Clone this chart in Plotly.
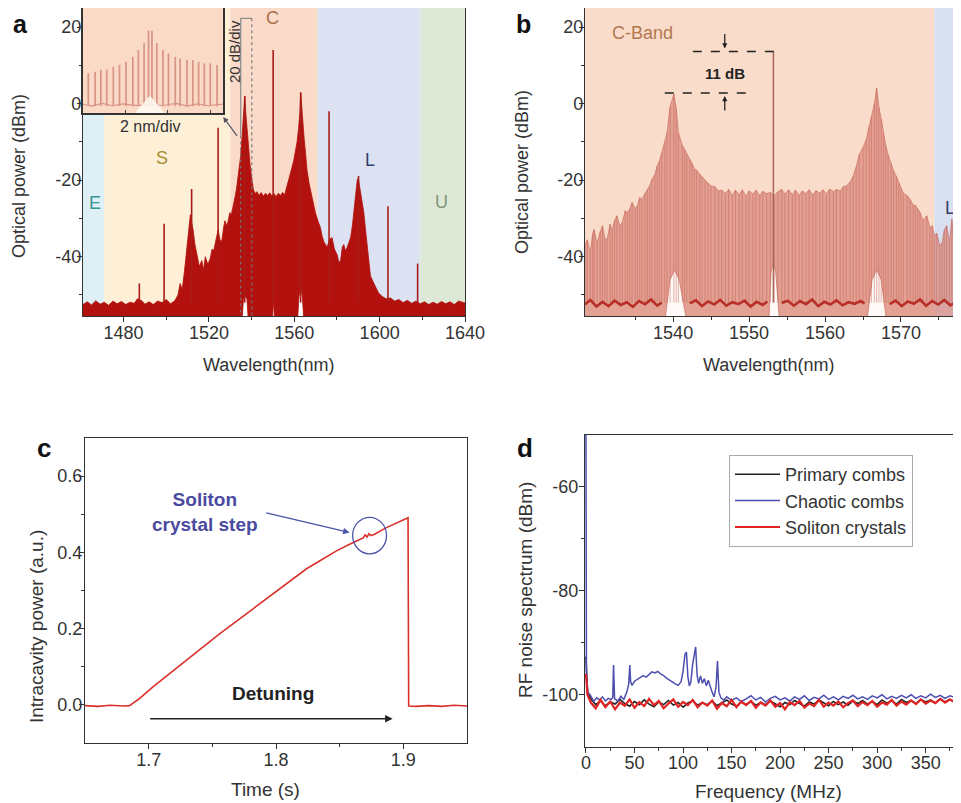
import plotly.graph_objects as go

FONT = "Arial, Liberation Sans, sans-serif"
TXT = "#333333"

# ---------------- Panel a : full spectrum ----------------
a_env_wl = [1461, 1463, 1465, 1467, 1469, 1471, 1473, 1475, 1477, 1479, 1481, 1483, 1485, 1486.5, 1488.5,
            1490, 1492, 1494, 1496, 1498, 1500, 1502, 1504, 1505.5, 1506.5, 1507.5, 1508.5, 1509.5, 1510.5,
            1511.3, 1511.9, 1512.6, 1513.5, 1514.4, 1515.5, 1516.7, 1517.5, 1518.3, 1519.5, 1520.6, 1521.5,
            1522.2, 1523.2, 1524.3, 1525.2, 1526, 1527, 1527.5, 1528.5, 1529.8, 1530.5, 1531.4, 1532.2, 1533,
            1534, 1534.8, 1535.5, 1536.1, 1536.5, 1536.8, 1537.2, 1537.7, 1538.5, 1539.3, 1540.2, 1540.9,
            1541.8, 1542.5, 1543.5, 1544.5, 1545.5, 1546.5, 1547.5, 1548.5, 1549.5, 1550.5, 1551.5, 1552.5,
            1553.5, 1554.5, 1555.5, 1556.6, 1557.5, 1558.2, 1559, 1559.7, 1560.5, 1561.3, 1562, 1562.6, 1563,
            1563.5, 1564, 1564.6, 1565.3, 1566, 1567, 1568.3, 1569.1, 1569.9, 1571, 1572.3, 1573, 1573.8,
            1575.4, 1576.5, 1577.7, 1578.8, 1580.1, 1580.9, 1581.7, 1582.5, 1583.2, 1584, 1584.8, 1585.6,
            1586.4, 1587.2, 1587.9, 1588.7, 1589.5, 1590, 1590.8, 1591.6, 1592.6, 1593.4, 1594.2, 1595,
            1595.7, 1596.9, 1598.1, 1599.5, 1601.2, 1603, 1605.1, 1607, 1609, 1611, 1613, 1615, 1617, 1619,
            1621, 1623, 1625, 1627, 1629, 1631, 1633, 1635, 1637, 1640]
a_env_db = [-52.5, -51.8, -52.6, -51.5, -52.4, -51.9, -52.7, -51.6, -52.3, -51.7, -52.5, -51.9, -52.2, -51.0, -51.5,
            -52.4, -51.8, -52.5, -51.6, -52.0, -51.2, -52.3, -51.5, -50.0, -47.0, -48.5, -44.0, -38.0, -34.0,
            -29.0, -31.0, -33.0, -37.0, -40.0, -42.5, -41.0, -43.5, -40.0, -42.0, -40.5, -38.0,
            -38.5, -35.5, -33.0, -35.5, -36.0, -32.0, -30.6, -32.0, -28.5, -29.0, -26.0, -24.5, -22.0,
            -18.0, -14.0, -9.0, -5.0, -1.5, 2.0, -2.0, -5.5, -11.0, -16.0, -20.0, -22.6,
            -23.5, -23.0, -24.0, -23.2, -24.2, -23.4, -24.0, -23.3, -24.1, -23.5, -24.3, -23.4,
            -24.0, -23.2, -23.8, -21.7, -20.0, -18.2, -16.5, -15.0, -12.5, -10.0, -6.5, -2.5, 3.0,
            -1.5, -5.0, -9.0, -13.0, -17.5, -21.0, -24.5, -26.5, -28.5, -30.5, -32.5, -34.5, -36.0,
            -37.5, -35.5, -35.0, -38.0, -39.5, -41.5, -41.0, -37.5, -36.8, -38.5, -37.5, -36.0,
            -35.0, -32.0, -28.0, -23.5, -20.0, -19.5, -22.0, -25.0, -28.5, -33.0, -37.5, -41.5,
            -45.0, -46.5, -47.8, -49.5, -50.4, -51.0, -50.8, -51.6, -51.2, -52.0, -51.4, -52.2, -51.6, -52.3,
            -51.8, -52.5, -51.9, -52.4, -51.7, -52.3, -51.8, -52.5, -51.6, -52.1]
a_floor_wl = [1640, 1564.5, 1563.8, 1563, 1562.2, 1561.5, 1550.8, 1550.3, 1549.7, 1538.5, 1537.8, 1537,
              1536.2, 1535.5, 1461]
a_floor_db = [-57, -57, -50.5, -48.0, -50.5, -57, -57, -51.5, -57, -57, -51.0, -50.4, -51.0, -57, -57]
spike_wl = [1487.4, 1499.0, 1511.9, 1524.3, 1536.8, 1550.1, 1563.0, 1576.3, 1590.1, 1603.9, 1617.8]
spike_db = [-47.0, -31.4, -22.3, -6.3, 1.9, 14.0, 2.8, -2.0, -18.9, -26.8, -41.8]
spike_base = -52.0

band_names = ["E", "S", "C", "L", "U"]
band_start = [1461, 1471, 1530, 1571, 1619]
band_end = [1471, 1530, 1571, 1619, 1640]
band_fill = ["#def0f5", "#fdf0d6", "#fadac8", "#dce2f2", "#dee8d6"]
band_lbl_wl = [1466.6, 1498.0, 1550.0, 1595.4, 1629.1]
band_lbl_db = [-26.0, -14.2, 22.3, -14.7, -25.7]
band_lbl_col = ["#3c9696", "#a88c34", "#a86e50", "#343c6e", "#82967a"]

# inset (zoom of the comb around 1537 nm)
inset_wl = [0.25, 0.57, 0.84, 1.12, 1.43, 1.72, 2.03, 2.35, 2.61, 2.88, 3.09, 3.25, 3.48, 3.77, 4.03,
            4.35, 4.58, 4.90, 5.18, 5.45, 5.72, 6.00, 6.32]
inset_db = [8.9, 9.3, 9.8, 9.9, 10.6, 11.1, 11.9, 13.2, 15.0, 16.8, 20.1, 20.1, 16.8, 15.0, 14.1,
            13.2, 12.8, 12.4, 12.4, 11.9, 11.5, 11.5, 11.1]
inset_floor_wl = [0, 0.4, 0.9, 1.4, 1.9, 2.4, 3.9, 4.4, 4.9, 5.4, 5.9, 6.6]
inset_floor_db = [0.8, 0.3, 1.0, 0.4, 0.9, 0.5, 0.6, 1.0, 0.3, 0.9, 0.4, 0.8]
inset_hump_wl = [2.45, 2.85, 3.15, 3.45, 3.85]
inset_hump_db = [-1.5, 1.2, 3.0, 1.2, -1.5]

# ---------------- Panel b : C-band soliton crystal ----------------
b_env_wl = [1528.4, 1528.7, 1529.1, 1529.4, 1529.6, 1530.0, 1530.4, 1530.7, 1531.0, 1531.3, 1531.7, 1532.0,
            1532.3, 1532.6, 1533.0, 1533.3, 1533.7, 1534.0, 1534.3, 1534.6, 1535.0, 1535.3, 1535.6, 1535.9,
            1536.3, 1536.6, 1536.9, 1537.2, 1537.6, 1537.9, 1538.2, 1538.5, 1538.9, 1539.2, 1539.6, 1540.1,
            1540.4, 1540.7, 1541.2, 1541.5, 1541.8, 1542.2, 1542.5, 1542.8, 1543.1, 1543.5, 1543.8, 1544.2,
            1544.6, 1545.0, 1545.5, 1546.0, 1546.4, 1546.9, 1547.3, 1547.8, 1548.2, 1548.7, 1549.1, 1549.6,
            1550.0, 1550.5, 1550.9, 1551.4, 1551.8, 1552.3, 1552.8, 1553.3, 1553.8, 1554.3, 1554.7, 1555.2,
            1555.7, 1556.1, 1556.6, 1557.0, 1557.5, 1557.9, 1558.4, 1558.8, 1559.3, 1559.7, 1560.2, 1560.6,
            1561.1, 1561.5, 1562.0, 1562.4, 1562.8, 1563.3, 1563.7, 1564.1, 1564.5, 1565.0, 1565.4, 1565.8,
            1566.1, 1566.5, 1566.8, 1567.1, 1567.4, 1567.7, 1568.0, 1568.3, 1568.7, 1569.0, 1569.4, 1569.7,
            1570.0, 1570.3, 1570.8, 1571.2, 1571.6, 1571.9, 1572.2, 1572.5, 1572.9, 1573.4, 1573.8, 1574.1,
            1574.4, 1574.7, 1575.1, 1575.4, 1575.7, 1576.0, 1576.4, 1576.7, 1577.0, 1577.3, 1577.6, 1577.9]
b_env_db = [-37.0, -35.6, -38.8, -34.0, -32.9, -36.5, -33.5, -31.9, -35.0, -35.6, -31.5, -33.0,
            -30.5, -29.3, -32.0, -31.0, -28.0, -28.4, -27.5, -25.8, -27.5, -26.6, -24.5, -25.0,
            -23.5, -22.4, -21.5, -19.8, -18.5, -16.3, -15.0, -12.8, -10.0, -7.6, -0.8, 2.5,
            -1.0, -7.6, -10.8, -12.0, -13.3, -14.5, -15.6, -17.0, -17.4, -18.5, -19.1, -20.0,
            -20.8, -21.5, -21.7, -22.8, -22.6, -23.5, -22.4, -24.0, -22.6, -23.8, -22.5, -24.2,
            -22.8, -23.6, -22.6, -24.0, -22.9, -23.5, -23.2, -24.0, -23.0, -22.4, -23.6, -22.5,
            -23.8, -22.6, -24.0, -22.8, -23.5, -22.5, -23.9, -22.7, -23.4, -22.5, -23.6, -22.3,
            -23.0, -22.4, -22.8, -21.7, -21.5, -20.5, -19.0, -16.5, -13.3, -11.5, -9.5, -6.0,
            -3.4, 0.0, 4.1, -1.0, -4.0, -8.0, -11.0, -13.3, -15.5, -17.4, -19.0, -20.8,
            -22.0, -23.4, -24.0, -25.0, -26.5, -26.6, -27.5, -28.4, -30.5, -29.3, -32.5, -31.9,
            -34.5, -33.8, -37.0, -36.5, -33.0, -31.9, -36.0, -30.2, -37.5, -35.6, -39.0, -37.0]
b_floor_wl = [1577.9, 1568.1, 1567.4, 1566.8, 1566.2, 1565.5, 1554.0, 1553.5, 1553.2, 1552.9, 1552.6,
              1541.8, 1540.8, 1540.2, 1539.6, 1538.9, 1528.4]
b_floor_db = [-57, -57, -46.0, -43.5, -46.0, -57, -57, -44.0, -41.6, -44.0, -57,
              -57, -46.0, -43.5, -46.0, -57, -57]
b_noise_wl = [1528.4, 1529.1, 1529.9, 1530.7, 1531.5, 1532.3, 1533.1, 1533.9, 1534.7, 1535.5, 1536.3, 1537.1,
              1537.9, 1538.5, None,
              1542.2, 1543.0, 1543.8, 1544.6, 1545.4, 1546.2, 1547.0, 1547.8, 1548.6, 1549.4, 1550.2, 1551.0,
              1551.8, 1552.4, None,
              1554.3, 1555.1, 1555.9, 1556.7, 1557.5, 1558.3, 1559.1, 1559.9, 1560.7, 1561.5, 1562.3, 1563.1,
              1563.9, 1564.7, 1565.2, None,
              1568.5, 1569.3, 1570.1, 1570.9, 1571.7, 1572.5, 1573.3, 1574.1, 1574.9, 1575.7, 1576.5, 1577.3,
              1577.9]
b_noise_db = [-52.5, -51.3, -53.0, -51.8, -52.9, -51.5, -52.6, -51.9, -53.1, -51.6, -52.4, -51.2,
              -52.8, -52.0, None,
              -52.2, -51.4, -52.9, -51.7, -52.5, -51.3, -52.8, -51.9, -52.4, -51.5, -53.0, -51.8,
              -52.6, -51.7, None,
              -52.1, -51.5, -52.8, -51.6, -52.4, -51.2, -52.9, -51.8, -52.5, -51.4, -52.7, -51.9,
              -52.3, -51.6, -52.2, None,
              -52.4, -51.5, -52.9, -51.7, -52.3, -51.2, -52.8, -51.6, -52.5, -51.3, -52.7, -51.8,
              -52.2]
pump_b_wl = 1553.2
pump_b_db = 13.6
comb_b_db = 2.8
b_band_start = [1528.4, 1574.4]
b_band_end = [1574.4, 1577.9]
b_band_fill = ["#fadcca", "#d8dff0"]

# ---------------- Panel c : intracavity power ----------------
t_c = [1.650, 1.660, 1.670, 1.680, 1.685, 1.693, 1.7036, 1.7298, 1.7559, 1.782, 1.8082, 1.824, 1.8345,
       1.8475, 1.8606, 1.8685, 1.8700, 1.8715, 1.8730, 1.8745, 1.8770, 1.8867, 1.9037, 1.9042, 1.910,
       1.920, 1.930, 1.940, 1.950]
p_c = [-0.002, -0.004, -0.001, -0.003, -0.002, 0.017, 0.048, 0.117, 0.187, 0.252, 0.317, 0.357, 0.378,
       0.404, 0.426, 0.438, 0.446, 0.440, 0.449, 0.444, 0.447, 0.465, 0.491, -0.003, -0.004,
       -0.002, -0.004, -0.001, -0.003]

# ---------------- Panel d : RF noise ----------------
f_grid = [0, 1.5, 5, 10, 15, 20, 25, 30, 35, 40, 45, 50, 55, 60, 65, 70, 75, 80, 85, 90, 95, 100, 105, 110,
          115, 120, 125, 130, 135, 140, 145, 150, 155, 160, 165, 170, 175, 180, 185, 190, 195, 200, 205,
          210, 215, 220, 225, 230, 235, 240, 245, 250, 255, 260, 265, 270, 275, 280, 285, 290, 295, 300,
          305, 310, 315, 320, 325, 330, 335, 340, 345, 350, 355, 360, 365, 370, 375, 380, 385]
primary_db = [-92.7, -99.5, -100.8, -101.9, -101.2, -102.1, -101.4, -101.8, -100.9, -101.7,
              -102.2, -101.3, -101.9, -101.0, -101.8, -102.3, -101.4, -101.9, -101.1, -102.0,
              -101.5, -102.4, -101.6, -101.2, -102.0, -101.5, -101.9, -101.2, -102.1, -101.6,
              -101.0, -101.8, -102.2, -101.4, -101.9, -101.3, -102.0, -101.5, -101.9, -101.2,
              -101.8, -102.3, -101.5, -101.9, -101.1, -101.7, -102.2, -101.4, -101.8, -101.0,
              -101.6, -102.1, -101.3, -101.9, -101.4, -102.0, -101.2, -101.7, -101.1, -101.8,
              -101.3, -101.9, -101.0, -101.6, -101.2, -101.8, -100.9, -101.5, -101.1, -101.7,
              -100.9, -101.4, -101.0, -101.6, -100.8, -101.4, -100.9, -101.5, -101.0]
soliton_db = [-96.0, -100.0, -101.5, -102.6, -101.0, -102.4, -101.3, -102.8, -101.5, -102.1,
              -100.9, -102.5, -101.4, -102.2, -100.8, -102.0, -101.2, -102.6, -101.7, -100.9,
              -102.3, -101.4, -102.0, -101.0, -102.4, -101.5, -102.1, -101.1, -102.7, -101.6,
              -102.2, -101.0, -102.4, -101.3, -102.0, -101.2, -102.5, -101.5, -102.1, -101.1,
              -102.3, -101.6, -102.8, -101.4, -102.0, -101.2, -102.5, -101.7, -102.2, -101.0,
              -102.3, -101.5, -102.1, -101.3, -102.4, -101.6, -101.1, -102.2, -101.4, -102.0,
              -101.2, -102.3, -101.5, -101.9, -101.0, -102.1, -101.3, -101.9, -101.1, -101.8,
              -100.9, -101.7, -101.1, -101.6, -100.8, -101.5, -100.9, -101.4, -100.8]
f_chaotic_low = [0, 0.5, 2, 5, 8, 11, 14, 17, 20, 23, 26, 27.6, 28.4, 29.5, 33, 36, 39, 42, 44, 45.2,
                 46, 47.5, 50, 53, 56, 59, 62, 65, 68, 71, 74, 77, 80, 83, 86, 89, 92, 95, 98, 100,
                 102, 103.5, 105, 106.5, 108, 110, 111.5, 113, 114.5, 116, 118, 120, 122, 124, 126, 128,
                 130, 132, 134, 135.5, 137, 139, 142]
chaotic_low_db = [-50.0, -96.0, -99.5, -100.2, -101.3, -100.6, -101.0, -100.4, -101.2, -100.7,
                  -100.9, -100.5, -94.3, -100.8, -101.2, -100.3, -100.9, -99.5, -98.0, -94.3,
                  -97.5, -98.2, -97.4, -97.0, -96.6, -96.3, -96.6, -96.0, -95.6, -95.8,
                  -95.5, -96.0, -96.3, -96.8, -97.2, -97.6, -97.9, -98.2, -97.5, -95.5,
                  -92.2, -91.8, -96.5, -98.3, -97.6, -94.0, -92.0, -90.8, -96.2, -97.8,
                  -96.4, -97.8, -96.9, -98.3, -97.2, -98.6, -99.5, -100.4, -98.5, -93.5,
                  -99.5, -100.6, -101.0]
f_chaotic_high = [145, 150, 155, 160, 165, 170, 175, 180, 185, 190, 195, 200, 205, 210, 215, 220, 225,
                  230, 235, 240, 245, 250, 255, 260, 265, 270, 275, 280, 285, 290, 295, 300, 305, 310,
                  315, 320, 325, 330, 335, 340, 345, 350, 355, 360, 365, 370, 375, 380, 385]
chaotic_high_db = [-100.4, -101.1, -100.6, -101.3, -100.8, -100.2, -101.0, -100.5, -101.4, -100.7,
                   -100.3, -101.0, -100.6, -101.2, -100.4, -100.9, -100.2, -101.1, -100.5, -100.8,
                   -100.1, -100.9, -100.4, -101.0, -100.3, -100.7, -100.1, -100.8, -100.4, -100.9,
                   -100.2, -100.6, -100.0, -100.8, -100.3, -100.7, -100.1, -100.6, -100.0, -100.7,
                   -100.2, -100.6, -99.9, -100.5, -100.1, -100.7, -100.2, -100.5, -100.0]
series_names = ["Primary combs", "Chaotic combs", "Soliton crystals"]
series_colors = ["#222222", "#4b4fb0", "#e02424"]

# ============================================================
fig = go.Figure()
nolg = dict(showlegend=False, hoverinfo="skip")

# Panel a traces
fig.add_trace(go.Scatter(x=a_floor_wl, y=a_floor_db, mode="lines", fill="toself", fillcolor="white",
                         line=dict(width=0), xaxis="x", yaxis="y", **nolg))
fig.add_trace(go.Scatter(x=a_env_wl + a_floor_wl, y=a_env_db + a_floor_db, mode="lines", fill="toself",
                         fillcolor="#b3110e", line=dict(color="#b3110e", width=0.8),
                         xaxis="x", yaxis="y", **nolg))
sx, sy = [], []
for w, d in zip(spike_wl, spike_db):
    sx += [w, w, None]
    sy += [spike_base, d, None]
fig.add_trace(go.Scatter(x=sx, y=sy, mode="lines", line=dict(color="#a81c18", width=1.6),
                         xaxis="x", yaxis="y", **nolg))

# Panel b traces
fig.add_trace(go.Scatter(x=b_floor_wl, y=b_floor_db, mode="lines", fill="toself", fillcolor="#fffaf7",
                         line=dict(width=0), xaxis="x2", yaxis="y2", **nolg))
fig.add_trace(go.Scatter(x=b_env_wl + b_floor_wl, y=b_env_db + b_floor_db, mode="lines", fill="toself",
                         fillcolor="rgba(218,138,126,0.72)", line=dict(color="rgba(200,105,92,0.8)", width=0.8),
                         xaxis="x2", yaxis="y2", **nolg))
bx, by = [], []
for w, d in zip(b_env_wl, b_env_db):
    bx += [w, w, None]
    by += [-52.0, d, None]
fig.add_trace(go.Scatter(x=bx, y=by, mode="lines", line=dict(color="rgba(196,96,84,0.45)", width=1.1),
                         xaxis="x2", yaxis="y2", **nolg))
fig.add_trace(go.Scatter(x=b_noise_wl, y=b_noise_db, mode="lines", connectgaps=False,
                         line=dict(color="rgba(178,28,22,0.85)", width=2.6),
                         xaxis="x2", yaxis="y2", **nolg))
fig.add_trace(go.Scatter(x=[pump_b_wl, pump_b_wl], y=[-52, pump_b_db], mode="lines",
                         line=dict(color="#a8685a", width=1.5),
                         xaxis="x2", yaxis="y2", **nolg))

# Panel c trace
fig.add_trace(go.Scatter(x=t_c, y=p_c, mode="lines", line=dict(color="#d9302a", width=1.6),
                         xaxis="x3", yaxis="y3", **nolg))

# Panel d traces
fig.add_trace(go.Scatter(x=f_grid, y=primary_db, mode="lines", name=series_names[0],
                         line=dict(color=series_colors[0], width=1.6), xaxis="x4", yaxis="y4"))
fig.add_trace(go.Scatter(x=f_chaotic_low + f_chaotic_high, y=chaotic_low_db + chaotic_high_db, mode="lines",
                         name=series_names[1], line=dict(color=series_colors[1], width=1.5),
                         xaxis="x4", yaxis="y4"))
fig.add_trace(go.Scatter(x=f_grid, y=soliton_db, mode="lines", name=series_names[2],
                         line=dict(color=series_colors[2], width=2.2), xaxis="x4", yaxis="y4"))

# Inset traces
ix, iy = [], []
for w, d in zip(inset_wl, inset_db):
    ix += [w, w, None]
    iy += [0.3, d, None]
fig.add_trace(go.Scatter(x=ix, y=iy, mode="lines", line=dict(color="#d89484", width=1.7),
                         xaxis="x5", yaxis="y5", **nolg))
fig.add_trace(go.Scatter(x=inset_floor_wl, y=inset_floor_db, mode="lines", line=dict(color="#d89484", width=1.2),
                         xaxis="x5", yaxis="y5", **nolg))
fig.add_trace(go.Scatter(x=inset_hump_wl, y=inset_hump_db, mode="lines", fill="toself",
                         fillcolor="rgba(255,250,245,0.85)", line=dict(width=0),
                         xaxis="x5", yaxis="y5", **nolg))


def axstyle(**kw):
    base = dict(showgrid=False, zeroline=False, showline=True, linecolor="#333", linewidth=1.3,
                ticks="outside", ticklen=5, tickwidth=1.2, tickcolor="#333",
                tickfont=dict(size=18, color=TXT, family=FONT), automargin=False)
    base.update(kw)
    return base


# the page places the figure 8 px from the top-left corner of the window
OFF = 8.0
W, H = 953.0, 795.0
def px_x(p):
    return (p - OFF) / W
def px_y(p):
    return 1 - (p - OFF) / H

shapes = []
for s, e, c in zip(band_start, band_end, band_fill):
    shapes.append(dict(type="rect", xref="x", yref="y domain", x0=s, x1=e, y0=0, y1=1,
                       fillcolor=c, line=dict(width=0), layer="below"))
for s, e, c in zip(b_band_start, b_band_end, b_band_fill):
    shapes.append(dict(type="rect", xref="x2", yref="y2 domain", x0=s, x1=e, y0=0, y1=1,
                       fillcolor=c, line=dict(width=0), layer="below"))
shapes.append(dict(type="rect", xref="x5 domain", yref="y5 domain", x0=0, x1=1, y0=0, y1=1,
                   fillcolor="#fad9c6", line=dict(width=0), layer="below"))
zb_l, zb_r, zb_top, zb_mid = 1534.9, 1540.1, 22.3, -8.3
shapes += [
    dict(type="line", xref="x", yref="y", x0=zb_l, x1=zb_l, y0=zb_top, y1=zb_mid, line=dict(color="#8a8a8a", width=1.2)),
    dict(type="line", xref="x", yref="y", x0=zb_l, x1=zb_r, y0=zb_top, y1=zb_top, line=dict(color="#8a8a8a", width=1.2)),
    dict(type="line", xref="x", yref="y", x0=zb_r, x1=zb_r, y0=zb_top, y1=-55.5, line=dict(color="#777", width=1.1, dash="dot")),
    dict(type="line", xref="x", yref="y", x0=zb_l, x1=zb_l, y0=zb_mid, y1=-55.5, line=dict(color="#777", width=1.1, dash="dot")),
]
shapes += [
    dict(type="line", xref="x2", yref="y2", x0=1542.6, x1=1553.6, y0=pump_b_db, y1=pump_b_db,
         line=dict(color="#222", width=1.5, dash="dash")),
    dict(type="line", xref="x2", yref="y2", x0=1538.9, x1=1549.7, y0=comb_b_db, y1=comb_b_db,
         line=dict(color="#222", width=1.5, dash="dash")),
]
shapes.append(dict(type="circle", xref="x3", yref="y3", x0=1.8602, x1=1.8868, y0=0.396, y1=0.492,
                   line=dict(color="#4a55a8", width=1.3)))

ann = []
def label(x, y, text, size=18, color=TXT, bold=False, angle=0, xref="paper", yref="paper",
          xanchor="center", yanchor="middle"):
    t = "<b>" + text + "</b>" if bold else text
    ann.append(dict(x=x, y=y, xref=xref, yref=yref, text=t, showarrow=False, textangle=angle,
                    xanchor=xanchor, yanchor=yanchor, font=dict(size=size, color=color, family=FONT)))

label(px_x(20), 1.0, "a", size=25, color="#111", bold=True, yanchor="top")
label(px_x(523), 1.0, "b", size=25, color="#111", bold=True, yanchor="top")
label(px_x(44), px_y(448), "c", size=26, color="#111", bold=True)
label(px_x(525), px_y(448), "d", size=26, color="#111", bold=True)

label(px_x(19), px_y(176), "Optical power (dBm)", size=18, angle=-90)
label(px_x(522), px_y(172), "Optical power (dBm)", size=18, angle=-90)
label(px_x(268), px_y(365), "Wavelength(nm)", size=18)
label(px_x(768), px_y(365), "Wavelength(nm)", size=18)
label(px_x(36), px_y(627), "Intracavity power (a.u.)", size=19, angle=-90)
label(px_x(265), px_y(789), "Time (s)", size=19)
label(px_x(525), px_y(590), "RF noise spectrum (dBm)", size=19, angle=-90)
label(px_x(768), px_y(791), "Frequency (MHz)", size=19)

for n, w, d, c in zip(band_names, band_lbl_wl, band_lbl_db, band_lbl_col):
    label(w, d, n, size=18, color=c, xref="x", yref="y")
label(1492.4, -5.9, "2 nm/div", size=16, xref="x", yref="y")
label(1531.7, 13.7, "20 dB/div", size=15, angle=-90, xref="x", yref="y")
ann.append(dict(x=1526.7, y=-3.5, ax=1533.7, ay=-8.8, xref="x", yref="y", axref="x", ayref="y",
                showarrow=True, arrowhead=2, arrowsize=0.9, arrowwidth=1.2, arrowcolor="#556", text=""))

label(1536.0, 18.5, "C-Band", size=18, color="#b07850", xref="x2", yref="y2")
label(1576.4, -27.3, "L", size=18, color="#343c6e", xref="x2", yref="y2")
label(1546.8, 8.0, "11 dB", size=15, color="#222", bold=True, xref="x2", yref="y2")
ann.append(dict(x=1546.8, y=14.4, ax=1546.8, ay=18.6, xref="x2", yref="y2", axref="x2", ayref="y2",
                showarrow=True, arrowhead=2, arrowsize=0.8, arrowwidth=1.3, arrowcolor="#222", text=""))
ann.append(dict(x=1546.8, y=2.0, ax=1546.8, ay=-2.2, xref="x2", yref="y2", axref="x2", ayref="y2",
                showarrow=True, arrowhead=2, arrowsize=0.8, arrowwidth=1.3, arrowcolor="#222", text=""))

label(1.7441, 0.507, "Soliton<br>crystal step", size=19, color="#4a4aa0", bold=True, xref="x3", yref="y3")
ann.append(dict(x=1.8578, y=0.452, ax=1.7912, ay=0.5046, xref="x3", yref="y3", axref="x3", ayref="y3",
                showarrow=True, arrowhead=2, arrowsize=1, arrowwidth=1.3, arrowcolor="#4a55a8", text=""))
label(1.7975, 0.030, "Detuning", size=19, color="#222", bold=True, xref="x3", yref="y3")
ann.append(dict(x=1.8916, y=-0.0365, ax=1.700, ay=-0.0365, xref="x3", yref="y3", axref="x3", ayref="y3",
                showarrow=True, arrowhead=2, arrowsize=1, arrowwidth=1.5, arrowcolor="#222", text=""))

ab_ticks = [-40, -20, 0, 20]
ab_text = ["-40", "-20", "0", "20"]
yd_ab = [px_y(316), px_y(8)]
XSO = -5
fig.update_layout(
    width=int(W), height=int(H), margin=dict(l=0, r=0, t=0, b=0),
    paper_bgcolor="white", plot_bgcolor="rgba(0,0,0,0)",
    font=dict(family=FONT, color=TXT),
    xaxis=axstyle(domain=[px_x(83), px_x(465)], anchor="y", range=[1461, 1640], mirror=True,
                  tickvals=[1480, 1520, 1560, 1600, 1640], ticklabelstandoff=XSO,
                  minor=dict(tickvals=[1460, 1500, 1540, 1580, 1620], ticks="outside", ticklen=3, tickcolor="#333")),
    yaxis=axstyle(domain=yd_ab, anchor="x", range=[-55.5, 25], mirror=True,
                  tickvals=ab_ticks, ticktext=ab_text, ticklabelstandoff=-8,
                  minor=dict(tickvals=[-50, -30, -10, 10], ticks="outside", ticklen=3, tickcolor="#333")),
    xaxis2=axstyle(domain=[px_x(585), 1.0], anchor="y2", range=[1528.4, 1577.9], mirror=True,
                   tickvals=[1540, 1550, 1560, 1570], ticklabelstandoff=XSO,
                   minor=dict(tickvals=[1535, 1545, 1555, 1565, 1575], ticks="outside", ticklen=3, tickcolor="#333")),
    yaxis2=axstyle(domain=yd_ab, anchor="x2", range=[-55.5, 25], mirror=False,
                   tickvals=ab_ticks, ticktext=ab_text, ticklabelstandoff=-8,
                   minor=dict(tickvals=[-50, -30, -10, 10], ticks="outside", ticklen=3, tickcolor="#333")),
    xaxis3=axstyle(domain=[px_x(85), px_x(467)], anchor="y3", range=[1.65, 1.95], mirror=True,
                   tickvals=[1.7, 1.8, 1.9], ticktext=["1.7", "1.8", "1.9"], ticklabelstandoff=XSO,
                   minor=dict(tickvals=[1.75, 1.85], ticks="outside", ticklen=3, tickcolor="#333")),
    yaxis3=axstyle(domain=[px_y(743), px_y(438)], anchor="x3", range=[-0.1, 0.7], mirror=True,
                   tickvals=[0.0, 0.2, 0.4, 0.6], ticktext=["0.0", "0.2", "0.4", "0.6"], ticklabelstandoff=-7,
                   minor=dict(tickvals=[0.1, 0.3, 0.5], ticks="outside", ticklen=3, tickcolor="#333")),
    xaxis4=axstyle(domain=[px_x(585), 1.0], anchor="y4", range=[-1, 386.4], mirror=True,
                   tickvals=[0, 50, 100, 150, 200, 250, 300, 350], ticklabelstandoff=XSO,
                   minor=dict(tickvals=[25, 75, 125, 175, 225, 275, 325, 375], ticks="outside", ticklen=3, tickcolor="#333")),
    yaxis4=axstyle(domain=[px_y(746.7), px_y(435)], anchor="x4", range=[-110, -50], mirror=False,
                   tickvals=[-100, -80, -60], ticktext=["-100", "-80", "-60"], ticklabelstandoff=-3,
                   minor=dict(tickvals=[-90, -70], ticks="outside", ticklen=3, tickcolor="#333")),
    xaxis5=dict(domain=[px_x(83), px_x(223)], anchor="y5", range=[0, 6.6], showgrid=False, zeroline=False,
                showline=True, mirror=True, linecolor="#333", linewidth=1.5, ticks="inside", ticklen=3,
                tickvals=[2, 4, 6], showticklabels=False, automargin=False),
    yaxis5=dict(domain=[px_y(113), px_y(8)], anchor="x5", range=[-1.5, 26], showgrid=False, zeroline=False,
                showline=True, mirror=True, linecolor="#333", linewidth=1.5, ticks="", showticklabels=False,
                automargin=False),
    shapes=shapes,
    annotations=ann,
    showlegend=True,
    legend=dict(x=px_x(729), y=px_y(455), xanchor="left", yanchor="top", bgcolor="white",
                bordercolor="#aaaaaa", borderwidth=1, font=dict(size=18, color=TXT, family=FONT),
                tracegroupgap=0, itemwidth=45),
)

fig.write_html("out.html")
